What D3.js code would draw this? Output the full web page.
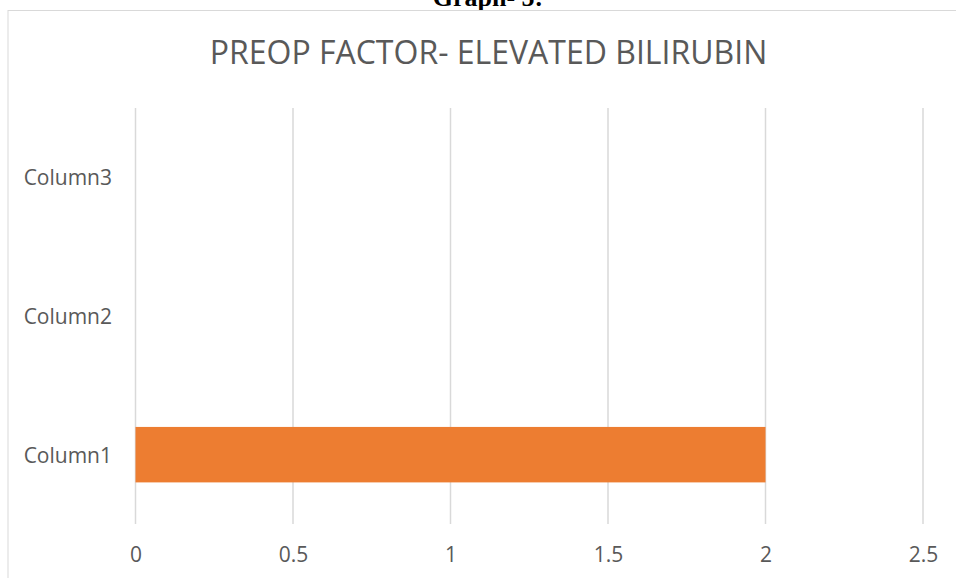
<!DOCTYPE html>
<html>
<head>
<meta charset="utf-8">
<script src="https://d3js.org/d3.v7.min.js"></script>
<style>
  body { margin: 0; background: #fff; }
  svg text { font-family: "Open Sans", "Liberation Sans", sans-serif; }
</style>
</head>
<body>
<svg id="chart" width="956" height="578"></svg>
<script>
  // chart data
  const categories = ["Column1", "Column2", "Column3"];
  const values = [2, 0, 0];
  const xTicks = [0, 0.5, 1, 1.5, 2, 2.5];
  const xTickLabels = ["0", "0.5", "1", "1.5", "2", "2.5"];
  const chartTitle = "PREOP FACTOR- ELEVATED BILIRUBIN";
  const caption = "Graph- 5:";

  const svg = d3.select("svg#chart");
  const width = +svg.attr("width");
  const height = +svg.attr("height");

  // caption above the chart frame (cut off at the top in the source)
  svg.append("text")
     .attr("x", 488)
     .attr("y", 6)
     .attr("text-anchor", "middle")
     .style("font-family", "'Liberation Serif', serif")
     .style("font-weight", "bold")
     .style("font-size", "26px")
     .attr("fill", "#000")
     .text(caption);

  // chart area border
  svg.append("rect")
     .attr("x", 8)
     .attr("y", 10.5)
     .attr("width", 1000)
     .attr("height", 700)
     .attr("fill", "none")
     .attr("stroke", "#d9d9d9")
     .attr("stroke-width", 1);

  svg.append("text")
     .attr("x", 488.5)
     .attr("y", 64)
     .attr("text-anchor", "middle")
     .attr("fill", "#595959")
     .style("font-size", "32px")
     .text(chartTitle);

  const margin = { top: 108, right: 33, bottom: 54, left: 135.5 };

  const x = d3.scaleLinear()
              .domain([0, 2.5])
              .range([margin.left, 923]);

  const y = d3.scaleBand()
              .domain(categories.slice().reverse())
              .range([margin.top, height - margin.bottom])
              .paddingInner(0.6)
              .paddingOuter(0.3);

  // gridlines
  svg.append("g")
     .selectAll("line.grid")
     .data(xTicks)
     .join("line")
     .attr("class", "grid")
     .attr("x1", d => x(d))
     .attr("x2", d => x(d))
     .attr("y1", margin.top)
     .attr("y2", height - margin.bottom)
     .attr("stroke", "#d9d9d9")
     .attr("stroke-width", 1.5);

  // bars
  svg.append("g")
     .selectAll("rect.bar")
     .data(categories.map((c, i) => ({ cat: c, val: values[i] })))
     .join("rect")
     .attr("class", "bar")
     .attr("x", x(0))
     .attr("y", d => y(d.cat))
     .attr("width", d => x(d.val) - x(0))
     .attr("height", y.bandwidth())
     .attr("fill", "#ed7d31");

  // x axis labels
  const xAxis = d3.axisBottom(x)
                  .tickValues(xTicks)
                  .tickFormat((d, i) => xTickLabels[i])
                  .tickSize(0)
                  .tickPadding(0);

  const gx = svg.append("g")
     .attr("transform", "translate(0," + 547 + ")")
     .call(xAxis);
  gx.select(".domain").remove();
  gx.selectAll("text")
    .attr("fill", "#595959")
    .style("font-size", "21px");

  // y axis labels
  const yAxis = d3.axisLeft(y).tickSize(0).tickPadding(0);
  const gy = svg.append("g")
     .attr("transform", "translate(112,0)")
     .call(yAxis);
  gy.select(".domain").remove();
  gy.selectAll("text")
    .attr("fill", "#595959")
    .style("font-size", "21px")
    .attr("dy", "0.38em");
</script>
</body>
</html>
